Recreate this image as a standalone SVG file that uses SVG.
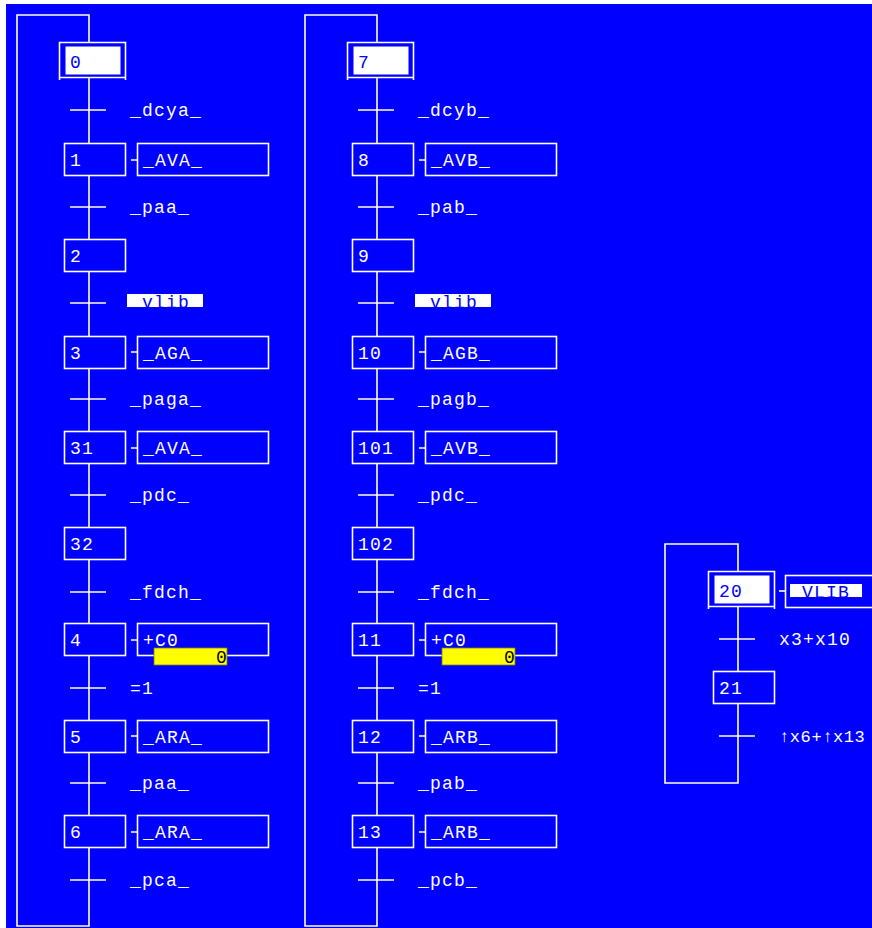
<svg xmlns="http://www.w3.org/2000/svg" width="872" height="928" viewBox="0 0 872 928">
<style>
.ln{fill:none;stroke:#fff;stroke-width:1.6}
.st{fill:#0000ff;stroke:#fff;stroke-width:1.6}
.t{font-family:"Liberation Mono","DejaVu Sans Mono",monospace;font-size:18px;letter-spacing:1.2px;fill:#fff}
.tb{font-family:"Liberation Mono","DejaVu Sans Mono",monospace;font-size:18px;letter-spacing:1.2px;fill:#0000ff}
.tk{font-family:"Liberation Mono","DejaVu Sans Mono",monospace;font-size:18px;fill:#000}
.hl{fill:#fff}
.yb{fill:#ffff00;stroke:#808000;stroke-width:0.8}
</style>
<rect x="0" y="0" width="872" height="928" fill="#fff"/>
<rect x="6" y="4" width="866" height="924" fill="#0000ff"/>

<g id="connectors">
  <path class="ln" d="M17,15 H89 V926 H17 Z"/>
  <path class="ln" d="M305,15 H377 V926 H305 Z"/>
  <path class="ln" d="M665,544 H738 V783 H665 Z"/>
  <path class="ln" d="M70,110H106 M70,207H106 M70,303H106 M70,399H106 M70,495H106 M70,592H106 M70,688H106 M70,783H106 M70,880H106"/>
  <path class="ln" d="M358,110H394 M358,207H394 M358,303H394 M358,399H394 M358,495H394 M358,592H394 M358,688H394 M358,783H394 M358,880H394"/>
  <path class="ln" d="M719,639H755 M719,736H755"/>
  <path class="ln" d="M131,160H137 M131,352H137 M131,448H137 M131,640H137 M131,736H137 M131,832H137"/>
  <path class="ln" d="M419,160H425 M419,352H425 M419,448H425 M419,640H425 M419,736H425 M419,832H425"/>
  <path class="ln" d="M779,591H785"/>
</g>

<g id="transition-labels">
  <text class="t" x="130" y="116">_dcya_</text>
  <text class="t" x="130" y="213">_paa_</text>
  <rect class="hl" x="127" y="294" width="76" height="13"/>
  <text class="tb" x="142" y="308">vlib</text>
  <text class="t" x="130" y="405">_paga_</text>
  <text class="t" x="130" y="501">_pdc_</text>
  <text class="t" x="130" y="598">_fdch_</text>
  <text class="t" x="130" y="694">=1</text>
  <text class="t" x="130" y="789">_paa_</text>
  <text class="t" x="130" y="886">_pca_</text>

  <text class="t" x="418" y="116">_dcyb_</text>
  <text class="t" x="418" y="213">_pab_</text>
  <rect class="hl" x="415" y="294" width="76" height="13"/>
  <text class="tb" x="430" y="308">vlib</text>
  <text class="t" x="418" y="405">_pagb_</text>
  <text class="t" x="418" y="501">_pdc_</text>
  <text class="t" x="418" y="598">_fdch_</text>
  <text class="t" x="418" y="694">=1</text>
  <text class="t" x="418" y="789">_pab_</text>
  <text class="t" x="418" y="886">_pcb_</text>

  <text class="t" x="779" y="645">x3+x10</text>
  <text class="t" x="779" y="742" style="font-size:17px;letter-spacing:0.6px">↑x6+↑x13</text>
</g>

<g id="step-0">
  <rect x="59.5" y="42.5" width="66" height="35" fill="#0000ff"/>
  <path class="ln" d="M59.5,80 V42.5 H125.5 V80 M59.5,77.5 H125.5"/>
  <rect x="65.5" y="46.5" width="55" height="28" fill="#fff"/>
  <text class="tb" x="70" y="68">0</text>
</g>
<g id="step-1"><rect class="st" x="64.5" y="143.5" width="61" height="32"/><text class="t" x="70" y="166">1</text>
  <rect class="st" x="137.5" y="143.5" width="131" height="32"/><text class="t" x="143" y="166">_AVA_</text></g>
<g id="step-2"><rect class="st" x="64.5" y="239.5" width="61" height="32"/><text class="t" x="70" y="262">2</text></g>
<g id="step-3"><rect class="st" x="64.5" y="336.5" width="61" height="32"/><text class="t" x="70" y="359">3</text>
  <rect class="st" x="137.5" y="336.5" width="131" height="32"/><text class="t" x="143" y="359">_AGA_</text></g>
<g id="step-31"><rect class="st" x="64.5" y="431.5" width="61" height="32"/><text class="t" x="70" y="454">31</text>
  <rect class="st" x="137.5" y="431.5" width="131" height="32"/><text class="t" x="143" y="454">_AVA_</text></g>
<g id="step-32"><rect class="st" x="64.5" y="527.5" width="61" height="32"/><text class="t" x="70" y="550">32</text></g>
<g id="step-4"><rect class="st" x="64.5" y="623.5" width="61" height="32"/><text class="t" x="70" y="646">4</text>
  <rect class="st" x="137.5" y="623.5" width="131" height="32"/><text class="t" x="143" y="646">+C0</text>
  <rect class="yb" x="154" y="648" width="73" height="17"/><text class="tk" x="216" y="663">0</text></g>
<g id="step-5"><rect class="st" x="64.5" y="720.5" width="61" height="32"/><text class="t" x="70" y="743">5</text>
  <rect class="st" x="137.5" y="720.5" width="131" height="32"/><text class="t" x="143" y="743">_ARA_</text></g>
<g id="step-6"><rect class="st" x="64.5" y="815.5" width="61" height="32"/><text class="t" x="70" y="838">6</text>
  <rect class="st" x="137.5" y="815.5" width="131" height="32"/><text class="t" x="143" y="838">_ARA_</text></g>

<g id="step-7">
  <rect x="347.5" y="42.5" width="66" height="35" fill="#0000ff"/>
  <path class="ln" d="M347.5,80 V42.5 H413.5 V80 M347.5,77.5 H413.5"/>
  <rect x="353.5" y="46.5" width="55" height="28" fill="#fff"/>
  <text class="tb" x="358" y="68">7</text>
</g>
<g id="step-8"><rect class="st" x="352.5" y="143.5" width="61" height="32"/><text class="t" x="358" y="166">8</text>
  <rect class="st" x="425.5" y="143.5" width="131" height="32"/><text class="t" x="431" y="166">_AVB_</text></g>
<g id="step-9"><rect class="st" x="352.5" y="239.5" width="61" height="32"/><text class="t" x="358" y="262">9</text></g>
<g id="step-10"><rect class="st" x="352.5" y="336.5" width="61" height="32"/><text class="t" x="358" y="359">10</text>
  <rect class="st" x="425.5" y="336.5" width="131" height="32"/><text class="t" x="431" y="359">_AGB_</text></g>
<g id="step-101"><rect class="st" x="352.5" y="431.5" width="61" height="32"/><text class="t" x="358" y="454">101</text>
  <rect class="st" x="425.5" y="431.5" width="131" height="32"/><text class="t" x="431" y="454">_AVB_</text></g>
<g id="step-102"><rect class="st" x="352.5" y="527.5" width="61" height="32"/><text class="t" x="358" y="550">102</text></g>
<g id="step-11"><rect class="st" x="352.5" y="623.5" width="61" height="32"/><text class="t" x="358" y="646">11</text>
  <rect class="st" x="425.5" y="623.5" width="131" height="32"/><text class="t" x="431" y="646">+C0</text>
  <rect class="yb" x="442" y="648" width="73" height="17"/><text class="tk" x="504" y="663">0</text></g>
<g id="step-12"><rect class="st" x="352.5" y="720.5" width="61" height="32"/><text class="t" x="358" y="743">12</text>
  <rect class="st" x="425.5" y="720.5" width="131" height="32"/><text class="t" x="431" y="743">_ARB_</text></g>
<g id="step-13"><rect class="st" x="352.5" y="815.5" width="61" height="32"/><text class="t" x="358" y="838">13</text>
  <rect class="st" x="425.5" y="815.5" width="131" height="32"/><text class="t" x="431" y="838">_ARB_</text></g>

<g id="step-20">
  <rect x="708.5" y="571.5" width="66" height="35" fill="#0000ff"/>
  <path class="ln" d="M708.5,609 V571.5 H774.5 V609 M708.5,606.5 H774.5"/>
  <rect x="714.5" y="575.5" width="55" height="28" fill="#fff"/>
  <text class="tb" x="719" y="597">20</text>
  <rect class="st" x="785.5" y="575.5" width="100" height="32"/>
  <rect class="hl" x="790" y="584" width="72" height="13"/>
  <text class="tb" x="802" y="598">VLIB</text>
</g>
<g id="step-21"><rect class="st" x="713.5" y="671.5" width="61" height="32"/><text class="t" x="719" y="694">21</text></g>
</svg>
